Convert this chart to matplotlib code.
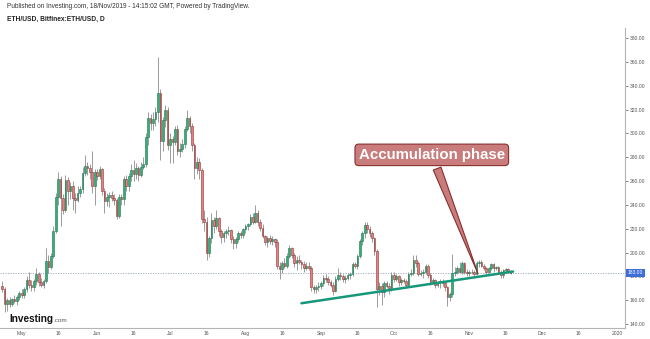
import numpy as np
import pandas as pd
import matplotlib
matplotlib.use("Agg")
import matplotlib.pyplot as plt
import matplotlib.dates as mdates
import matplotlib.transforms as mtransforms

# ETH/USD daily candles, Bitfinex, 23 Apr - 18 Nov 2019 (one line per month)
dates = pd.date_range("2019-04-23", "2019-11-18", freq="D")

opens = [
    172, 169, 157, 160, 157, 161, 159, 163,
    166, 164, 169, 177, 173, 171, 176, 182, 175, 173, 176, 193, 188, 197, 218, 247, 262, 246, 236, 261, 252, 256, 246, 244, 250, 253, 267, 273, 271, 268, 256,
    268, 264, 270, 252, 243, 247, 248, 246, 244, 231, 247, 245, 262, 256, 264, 269, 266, 271, 265, 272, 274, 297, 313, 309, 312, 318, 334, 294, 311, 320,
    290, 295, 293, 304, 285, 287, 291, 304, 313, 306, 290, 271, 276, 269, 228, 226, 200, 212, 227, 222, 229, 218, 213, 216, 218, 219, 211, 208, 211, 216, 215,
    220, 222, 224, 230, 226, 233, 226, 221, 214, 209, 212, 210, 211, 209, 189, 186, 191, 189, 197, 204, 198, 191, 194, 192, 190, 187, 189, 187, 171, 169, 171,
    172, 174, 179, 178, 175, 173, 168, 178, 181, 180, 178, 179, 181, 182, 190, 189, 197, 210, 216, 223, 220, 216, 212, 201, 169, 172, 167, 174, 172, 170,
    181, 178, 180, 175, 177, 176, 173, 182, 183, 194, 191, 182, 183, 184, 189, 181, 175, 177, 173, 175, 176, 174, 171, 163, 165, 183, 184, 187, 184, 191, 184,
    183, 184, 184, 182, 191, 192, 189, 187, 184, 187, 190, 187, 188, 184, 181, 185, 186, 184,
]
highs = [
    176, 171, 162, 163, 162, 164, 164, 168,
    169, 171, 180, 184, 177, 178, 187, 184, 179, 178, 204, 198, 200, 222, 250, 268, 264, 249, 265, 263, 259, 260, 250, 256, 256, 272, 282, 276, 274, 285, 270,
    270, 273, 271, 254, 250, 251, 252, 249, 246, 249, 249, 264, 265, 267, 274, 278, 275, 273, 276, 280, 300, 318, 316, 318, 322, 364, 337, 314, 324, 322,
    300, 298, 306, 307, 292, 295, 306, 320, 315, 309, 292, 280, 279, 271, 236, 230, 214, 233, 230, 236, 230, 220, 218, 220, 222, 220, 214, 213, 218, 218, 221,
    224, 225, 232, 233, 240, 236, 228, 224, 215, 214, 215, 214, 212, 211, 192, 193, 195, 200, 206, 205, 200, 197, 198, 194, 193, 192, 192, 189, 173, 173, 175,
    176, 181, 182, 180, 177, 175, 180, 187, 184, 182, 181, 183, 184, 192, 192, 199, 211, 218, 226, 226, 222, 218, 213, 203, 175, 174, 176, 176, 174, 184,
    184, 182, 181, 179, 179, 178, 184, 186, 198, 198, 193, 185, 186, 190, 190, 183, 179, 178, 176, 178, 178, 176, 172, 167, 199, 188, 189, 192, 193, 192, 186,
    185, 186, 185, 193, 194, 194, 190, 188, 188, 191, 191, 189, 189, 185, 186, 187, 187, 185,
]
lows = [
    167, 150, 151, 154, 155, 158, 156, 160,
    162, 162, 167, 170, 168, 168, 173, 172, 171, 170, 174, 183, 186, 195, 216, 240, 222, 232, 234, 240, 245, 236, 233, 242, 247, 250, 264, 265, 262, 250, 240,
    261, 262, 248, 233, 239, 238, 243, 240, 228, 229, 240, 240, 252, 252, 260, 260, 262, 260, 263, 270, 272, 290, 303, 303, 306, 310, 278, 285, 305, 286,
    275, 275, 290, 282, 280, 284, 288, 302, 300, 285, 262, 266, 262, 225, 218, 194, 196, 208, 216, 220, 214, 208, 209, 212, 215, 208, 203, 204, 209, 212, 212,
    216, 219, 222, 224, 225, 222, 218, 212, 206, 205, 207, 206, 205, 186, 178, 183, 187, 187, 195, 195, 188, 185, 190, 186, 184, 185, 185, 168, 166, 166, 168,
    169, 172, 175, 173, 171, 164, 167, 176, 177, 175, 174, 177, 178, 180, 187, 186, 195, 206, 212, 216, 213, 209, 198, 154, 164, 156, 163, 170, 165, 168,
    175, 176, 172, 173, 174, 170, 172, 180, 181, 188, 180, 180, 179, 182, 179, 173, 174, 170, 171, 170, 172, 168, 155, 159, 163, 180, 182, 183, 182, 182, 180,
    180, 182, 180, 181, 188, 188, 185, 181, 183, 185, 184, 185, 183, 179, 179, 183, 183, 182,
]
closes = [
    169, 157, 160, 157, 161, 159, 163, 166,
    164, 169, 177, 173, 171, 176, 182, 175, 173, 176, 193, 188, 197, 218, 247, 262, 246, 236, 261, 252, 256, 246, 244, 250, 253, 267, 273, 271, 268, 256, 268,
    264, 270, 252, 243, 247, 248, 246, 244, 231, 247, 245, 262, 256, 264, 269, 266, 271, 265, 272, 274, 297, 313, 309, 312, 318, 334, 294, 311, 320, 290,
    295, 293, 304, 285, 287, 291, 304, 313, 306, 290, 271, 276, 269, 228, 226, 200, 212, 227, 222, 229, 218, 213, 216, 218, 219, 211, 208, 211, 216, 215, 220,
    222, 224, 230, 226, 233, 226, 221, 214, 209, 212, 210, 211, 209, 189, 186, 191, 189, 197, 204, 198, 191, 194, 192, 190, 187, 189, 187, 171, 169, 171, 172,
    174, 179, 178, 175, 173, 168, 178, 181, 180, 178, 179, 181, 182, 190, 189, 197, 210, 216, 223, 220, 216, 212, 201, 169, 172, 167, 174, 172, 170, 181,
    178, 180, 175, 177, 176, 173, 182, 183, 194, 191, 182, 183, 184, 189, 181, 175, 177, 173, 175, 176, 174, 171, 163, 165, 183, 184, 187, 184, 191, 184, 183,
    184, 184, 182, 191, 192, 189, 187, 184, 187, 190, 187, 188, 184, 181, 185, 186, 184, 183,
]

# support line drawn under the autumn range
trend_dates = ["2019-08-24", "2019-11-19"]
trend_prices = [157.4, 184.0]

# callout
note_text = "Accumulation phase"
note_box_date, note_box_price = "2019-10-16 14:00", 282.0
note_tip_date, note_tip_price = "2019-11-05", 180.0

tick_dates = ["2019-05-01", "2019-05-16", "2019-06-01", "2019-06-16", "2019-07-01",
              "2019-07-16", "2019-08-01", "2019-08-16", "2019-09-01", "2019-09-16",
              "2019-10-01", "2019-10-16", "2019-11-01", "2019-11-16", "2019-12-01",
              "2019-12-16", "2020-01-01"]
tick_labels = ["May", "16", "Jun", "16", "Jul", "16", "Aug", "16", "Sep", "16",
               "Oct", "16", "Nov", "16", "Dec", "16", "2020"]

UP_FILL, UP_EDGE = "#35ad78", "#1e7650"
DN_FILL, DN_EDGE = "#e4817f", "#8e3434"
WICK = "#8c8c8c"
AXIS_GREY = "#b5b5b5"
TEXT_GREY = "#555555"

plt.rcParams["font.family"] = ["Liberation Sans", "DejaVu Sans"]

o = np.array(opens, dtype=float)
h = np.array(highs, dtype=float)
l = np.array(lows, dtype=float)
c = np.array(closes, dtype=float)
x = mdates.date2num(dates)
up = c >= o

fig = plt.figure(figsize=(6.5, 3.39), dpi=100)
ax = fig.add_axes([0.0, 0.0324, 0.9615, 0.8846])

# wicks then bodies
ax.vlines(x, l, h, color=WICK, linewidth=0.6, zorder=2)
ax.bar(x[up], c[up] - o[up], bottom=o[up], width=0.68,
       color=UP_FILL, edgecolor=UP_EDGE, linewidth=0.4, zorder=3)
ax.bar(x[~up], c[~up] - o[~up], bottom=o[~up], width=0.68,
       color=DN_FILL, edgecolor=DN_EDGE, linewidth=0.4, zorder=3)

# last price line and tag
last = closes[-1]
ax.axhline(last, color="#9aa6bd", linewidth=0.6, linestyle=(0, (1.5, 1.5)), zorder=1)
blend = mtransforms.blended_transform_factory(ax.transAxes, ax.transData)
ax.text(1.004, last, f"{last:.2f}", transform=blend, fontsize=3.6, color="white",
        va="center", ha="left", clip_on=False, zorder=10,
        bbox=dict(boxstyle="square,pad=0.35", fc="#3f6fd6", ec="none"))

# trend line
ax.plot(mdates.datestr2num(trend_dates), trend_prices, color="#16977a",
        linewidth=1.8, solid_capstyle="round", zorder=4)

# callout box with wedge pointer
ax.annotate(note_text,
            xy=(mdates.datestr2num(note_tip_date), note_tip_price),
            xytext=(mdates.datestr2num(note_box_date), note_box_price),
            xycoords="data", textcoords="data",
            ha="center", va="center", fontsize=10.8, fontweight="bold", color="white",
            bbox=dict(boxstyle="round,pad=0.25,rounding_size=0.25", fc="#c97c7c",
                      ec="#8a2e2e", lw=0.8),
            arrowprops=dict(arrowstyle="wedge,tail_width=0.55,shrink_factor=0.5",
                            fc="#c97c7c", ec="#8a2e2e", lw=0.8),
            zorder=6)

# axes
may1 = mdates.datestr2num("2019-05-01")
ax.set_xlim(may1 - 8.92, may1 + 248.0)
ax.set_ylim(136.6, 388.4)

ax.set_xticks(mdates.datestr2num(tick_dates))
ax.set_xticklabels(tick_labels)
ax.set_yticks(np.arange(140, 381, 20))
ax.yaxis.set_major_formatter(plt.FuncFormatter(lambda v, p: f"{v:.2f}"))
ax.yaxis.tick_right()
ax.tick_params(axis="y", labelsize=3.6, colors=TEXT_GREY, length=2, width=0.5, pad=1.5)
ax.tick_params(axis="x", labelsize=3.6, colors=TEXT_GREY, length=0, pad=2.5)

for side in ("top", "left"):
    ax.spines[side].set_visible(False)
for side in ("right", "bottom"):
    ax.spines[side].set_color(AXIS_GREY)
    ax.spines[side].set_linewidth(0.8)

# header
fig.text(7 / 650, 1 - 7 / 339,
         "Published on Investing.com, 18/Nov/2019 - 14:15:02 GMT, Powered by TradingView.",
         fontsize=4.7, color="#333333", va="center", ha="left")
fig.text(7 / 650, 1 - 19 / 339, "ETH/USD, Bitfinex:ETH/USD, D",
         fontsize=4.8, fontweight="bold", color="#222222", va="center", ha="left")

# logo
logo = fig.text(9 / 650, 1 - 322 / 339, "Investing", fontsize=7.2,
                fontweight="bold", color="#111111", va="baseline", ha="left")
dotcom = fig.text(0, 1 - 322 / 339, ".com", fontsize=4.6, color="#555555",
                  va="baseline", ha="left")
fig.canvas.draw()
bb = logo.get_window_extent()
dotcom.set_x((bb.x1 + 0.5) / fig.bbox.width)

fig.savefig("out.png", dpi=100)
